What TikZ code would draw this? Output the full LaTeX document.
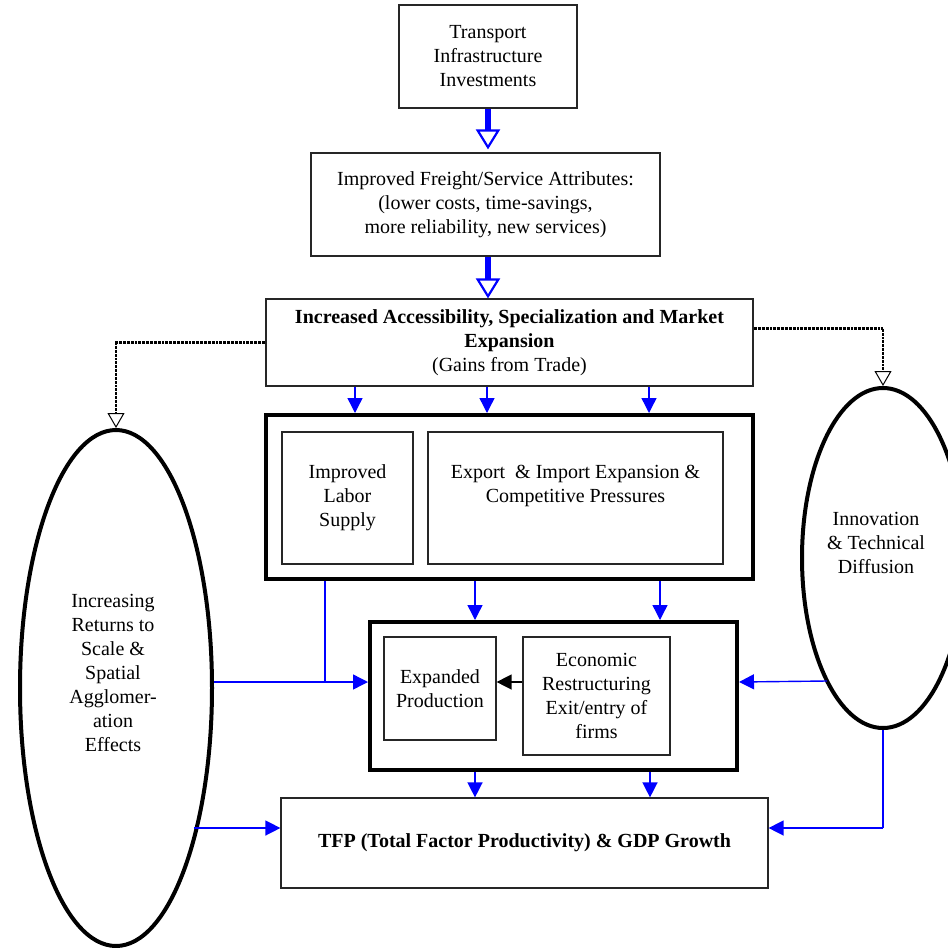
\documentclass[tikz,border=0pt]{standalone}
\usepackage{fontspec}
\setmainfont{Liberation Serif}
\usetikzlibrary{arrows.meta,shapes.geometric,calc}
\begin{document}
\begin{tikzpicture}[x=1pt,y=-1pt,
  every node/.style={font=\fontsize{20}{24}\selectfont, align=center, inner sep=0pt},
  box/.style={draw=black!85, line width=1.2pt},
  bigbox/.style={draw=black, line width=4pt},
  oval/.style={draw=black, line width=4pt, ellipse},
  ba/.style={draw=blue, line width=1.4pt, -{Triangle[width=15pt,length=15pt]}},
  bl/.style={draw=blue, line width=1.4pt},
  fat/.style={draw=blue, line width=5.5pt, -{Triangle[open, fill=white, width=24pt, length=20pt, line width=2.2pt]}},
  dots/.style={draw=black, line width=2.8pt, dash pattern=on 1pt off 0.35pt, -{Triangle[open, fill=white, width=17pt, length=15pt, line width=1pt]}},
  blk/.style={draw=black, line width=1.4pt, -{Triangle[width=15pt,length=15pt]}}
]
\useasboundingbox (0,0) rectangle (948,948);
\clip (0,0) rectangle (948,948);

\node[box, minimum width=178pt, minimum height=103pt] (top) at (488,56.5) {Transport\\Infrastructure\\Investments};
\node[box, minimum width=349pt, minimum height=103pt] (attr) at (485.5,204.5) {Improved Freight/Service Attributes:\\(lower costs, time-savings,\\more reliability, new services)};
\node[box, minimum width=487pt, minimum height=87pt] (acc) at (509.5,342.5) {\textbf{Increased Accessibility, Specialization and Market}\\\textbf{Expansion}\\(Gains from Trade)};

\node[bigbox, minimum width=487pt, minimum height=164pt] (g1) at (509.5,497) {};
\node[box, minimum width=131pt, minimum height=132pt] (labor) at (347.5,498) {Improved\\Labor\\Supply};
\node[box, minimum width=295pt, minimum height=132pt] (exp) at (575.5,498) {};
\node (exptxt) at (575.5,486) {Export\ \ \& Import Expansion \&\\Competitive Pressures};

\node[bigbox, minimum width=367pt, minimum height=148pt] (g2) at (553.5,696) {};
\node[box, minimum width=112pt, minimum height=103pt] (prod) at (440,688.5) {Expanded\\Production};
\node[box, minimum width=147pt, minimum height=118pt] (econ) at (596.5,696) {Economic\\Restructuring\\Exit/entry of\\firms};

\node[box, minimum width=487pt, minimum height=90pt] (tfp) at (524.5,843) {\textbf{TFP (Total Factor Productivity) \& GDP Growth}};

\node[oval, minimum width=192pt, minimum height=516pt] (lell) at (116,688) {};
\node (ltxt) at (113,673) {Increasing\\Returns to\\Scale \&\\Spatial\\Agglomer-\\ation\\Effects};
\node[oval, minimum width=162pt, minimum height=340pt] (rell) at (883,558) {};
\node (rtxt) at (876,543) {Innovation\\\& Technical\\Diffusion};

% thick arrows
\draw[fat, shorten >=3pt] (top.south) -- (top.south |- attr.north);
\draw[fat] (attr.south -| top.south) -- (acc.north -| top.south);

% dotted
\draw[dots] (acc.west) -| (lell.north);
\draw[dots] ($(acc.east)+(0,-14)$) -| (rell.north);

% blue arrows acc -> g1
\foreach \xx in {355,487,649} \draw[ba] (acc.south -| \xx,0) -- (g1.north -| \xx,0);
% g1 -> g2
\foreach \xx in {475,660} \draw[ba] (g1.south -| \xx,0) -- (g2.north -| \xx,0);
% g2 -> tfp
\foreach \xx in {475,650} \draw[ba] (g2.south -| \xx,0) -- (tfp.north -| \xx,0);

% left side
\coordinate (lj) at (325,682);
\draw[bl] (g1.south -| lj) -- (lj);
\draw[ba] ($(lell.east)+(0,-6)$) -- (g2.west |- lj);
\draw[ba] ($(lell.center)+(78,140)$) -- (tfp.west |- 0,828);

% right side
\draw[ba] ($(rell.center)+(-56,123)$) -- (g2.east |- lj);
\draw[bl] (rell.south) -- (rell.south |- 0,828);
\draw[ba] (rell.south |- 0,828) -- (tfp.east |- 0,828);

% econ -> prod
\draw[blk] (econ.west |- 0,682) -- (prod.east |- 0,682);
\end{tikzpicture}
\end{document}
